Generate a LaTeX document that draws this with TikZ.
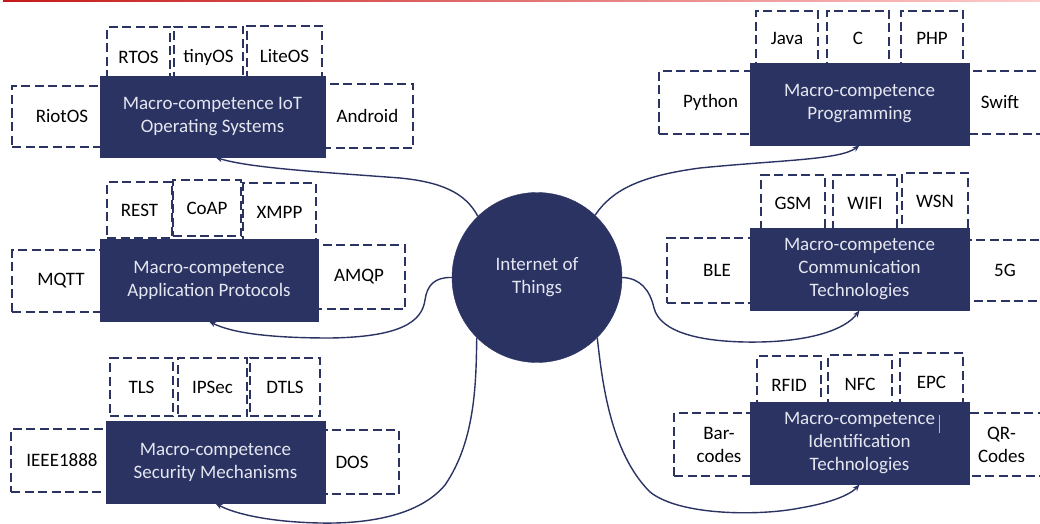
\documentclass[tikz,border=0pt]{standalone}
\usepackage{fontspec}
\setmainfont{Carlito}
\usetikzlibrary{arrows.meta}
\definecolor{navy}{HTML}{2B3363}
\definecolor{paletext}{HTML}{E4E6F0}
\definecolor{caret}{HTML}{C8B88A}
\tikzset{
  x=1pt, y=-1pt,
  font=\fontsize{19}{23}\selectfont,
  % dashed item box given by its corners
  item/.style={draw=navy, line width=2.6pt, dash pattern=on 9pt off 4.5pt,
    fill=white, text=black, inner sep=0pt, align=center},
  macro/.style={draw=navy, fill=navy, text=paletext, line width=0.8pt,
    inner sep=0pt, align=center},
  link/.style={draw=navy, line width=1.4pt, -{Stealth[length=7pt,width=5.5pt]}},
}
% \itembox{name}{left}{top}{right}{bottom}{text}
\newcommand{\itembox}[6]{%
  \node[item, minimum width={#4-#2}, minimum height={#5-#3}]
    (#1) at ({(#2+#4)/2},{(#3+#5)/2}) {#6};}
\newcommand{\macrobox}[6]{%
  \node[macro, minimum width={#4-#2}, minimum height={#5-#3}]
    (#1) at ({(#2+#4)/2},{(#3+#5)/2}) {#6};}
\begin{document}
\begin{tikzpicture}
\useasboundingbox (0,0) rectangle (1040,524);
% top rule
\shade[left color=red!75!black!90, right color=red!20] (3,0) rectangle (1040,1.8);

% ---- IoT Operating Systems
\itembox{rtos}{107}{27}{170}{87}{RTOS}
\itembox{tinyos}{174}{27}{243}{87}{tinyOS}
\itembox{liteos}{247}{26}{322}{87}{LiteOS}
\itembox{riotos}{12}{86}{112}{147}{RiotOS}
\itembox{android}{322}{84}{413}{148}{Android}
\macrobox{osm}{100}{76}{325}{157}{Macro-competence IoT\\Operating Systems}

% ---- Programming
\itembox{java}{756}{11}{818}{65}{Java}
\itembox{clang}{827}{11}{889}{65}{C}
\itembox{php}{901}{11}{963}{65}{PHP}
\itembox{python}{659}{71}{762}{134}{Python}
\itembox{swift}{955}{71}{1045}{134}{Swift}
\macrobox{prog}{750}{63}{969}{145}{Macro-competence\\Programming}

% ---- Application Protocols
\itembox{rest}{107}{182}{172}{238}{REST}
\itembox{coap}{173}{180}{241}{236}{CoAP}
\itembox{xmpp}{243}{183}{316}{241}{XMPP}
\itembox{mqtt}{12}{250}{110}{312}{MQTT}
\itembox{amqp}{313}{245}{405}{309}{AMQP}
\macrobox{app}{100}{239}{318}{321}{Macro-competence\\Application Protocols}

% ---- Communication Technologies
\itembox{gsm}{761}{175}{825}{231}{GSM}
\itembox{wifi}{833}{175}{897}{231}{WIFI}
\itembox{wsn}{902}{173}{968}{229}{WSN}
\itembox{ble}{667}{238}{767}{303}{BLE}
\itembox{fiveg}{960}{240}{1050}{301}{5G}
\macrobox{comm}{750}{228}{969}{310}{Macro-competence\\Communication\\Technologies}

% ---- Security Mechanisms
\itembox{tls}{110}{358}{173}{416}{TLS}
\itembox{ipsec}{178}{358}{247}{416}{IPSec}
\itembox{dtls}{250}{358}{320}{416}{DTLS}
\itembox{ieee}{11}{429}{113}{492}{IEEE1888}
\itembox{dos}{305}{430}{399}{494}{DOS}
\macrobox{sec}{106}{421}{325}{503}{Macro-competence\\Security Mechanisms}

% ---- Identification Technologies
\itembox{rfid}{757}{356}{821}{414}{RFID}
\itembox{nfc}{828}{355}{892}{413}{NFC}
\itembox{epc}{900}{353}{963}{411}{EPC}
\itembox{bar}{674}{413}{764}{476}{Bar-\\codes}
\itembox{qr}{958}{413}{1045}{476}{QR-\\Codes}
\macrobox{ident}{750}{402}{969}{484}{Macro-competence\\Identification\\Technologies}
\draw[caret, line width=0.9pt] (939,415) -- (939,433);

% ---- central topic
\node[circle, fill=navy, draw=navy, text=paletext, minimum size=170pt,
  inner sep=0pt, align=center] (iot) at (537,277.5) {Internet of\\Things};

% ---- connectors
\draw[link] (iot.134) .. controls (465,192) and (440,182) .. (400,178)
  .. controls (320,172) and (250,168) .. ([xshift=3pt]osm.south);
\draw[link] (iot.47) .. controls (612,190) and (640,176) .. (700,168)
  .. controls (780,160) and (840,160) .. (prog.south);
\draw[link] (iot.180) .. controls (435,277) and (427,285) .. (425,300)
  .. controls (422,322) and (400,337) .. (330,338)
  .. controls (270,338) and (232,333) .. (app.south);
\draw[link] (iot.0) .. controls (640,278) and (650,290) .. (654,308)
  .. controls (660,332) and (700,343) .. (760,342)
  .. controls (810,341) and (845,330) .. (comm.south);
\draw[link] (iot.225) .. controls (476,380) and (476,440) .. (445,485)
  .. controls (420,515) and (370,524) .. (320,523)
  .. controls (270,522) and (235,514) .. (sec.south);
\draw[link] (iot.315) .. controls (602,380) and (610,452) .. (650,492)
  .. controls (680,516) and (760,516) .. (800,508)
  .. controls (830,503) and (850,495) .. (ident.south);
\end{tikzpicture}
\end{document}
